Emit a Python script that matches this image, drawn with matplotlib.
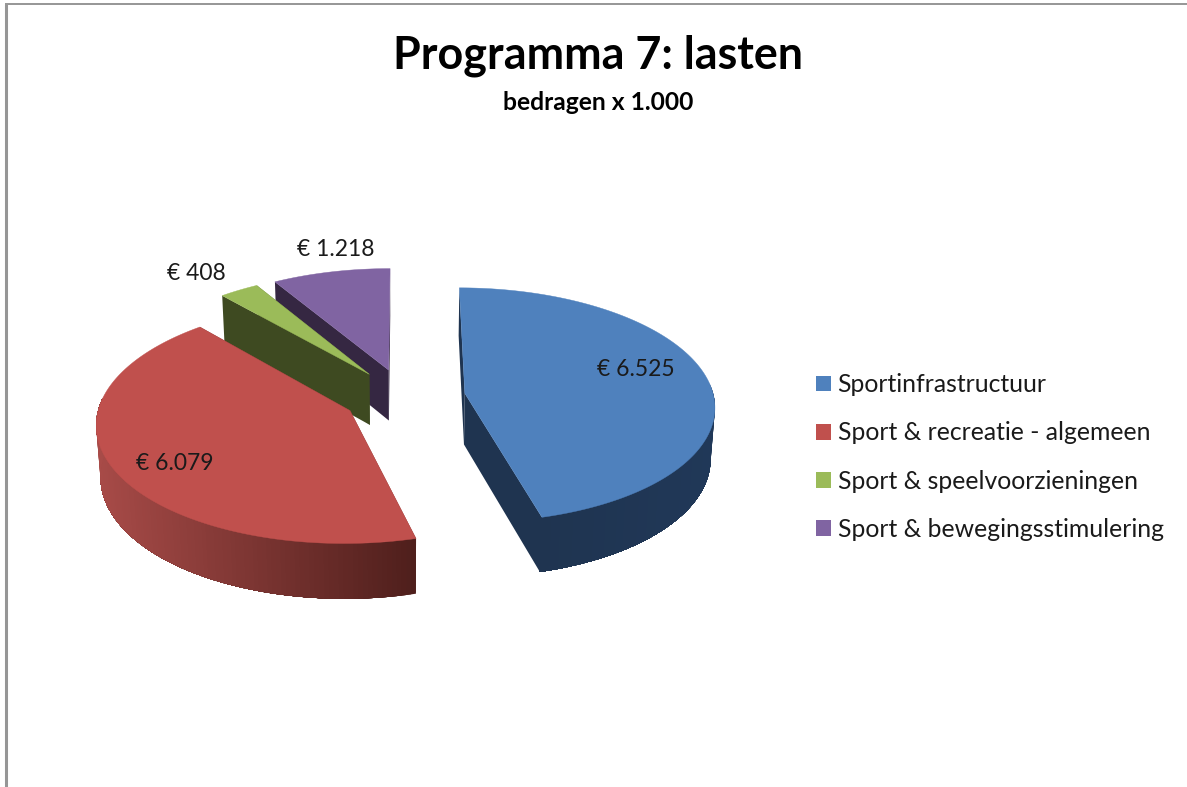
import numpy as np
import matplotlib
matplotlib.use("Agg")
import matplotlib.pyplot as plt
from matplotlib.patches import Patch, Polygon
from matplotlib.colors import to_rgb

TITLE = "Programma 7: lasten"
SUBTITLE = "bedragen x 1.000"
categories = ["Sportinfrastructuur", "Sport & recreatie - algemeen",
              "Sport & speelvoorzieningen", "Sport & bewegingsstimulering"]
values = [6525, 6079, 408, 1218]
top_colors = ["#4f81bd", "#c0504d", "#9bbb59", "#8064a2"]
cut_colors = ["#1f3450", "#4f1f1c", "#3e4a21", "#352742"]
rim_light = ["#203858", "#a84b48", "#5f7a30", "#4d3c66"]
rim_dark = ["#1f3450", "#4f1f1c", "#3e4a21", "#352742"]
label_pos = [(636, 370), (175, 463), (196, 273), (336, 249)]

CX, CY, RX, RY, K, EXPLODE, HEIGHT, DW = 404.5, 397, 249, 116.7, 0.10, 0.245, 52, 0.014

plt.rcParams["font.family"] = ["Lato", "DejaVu Sans"]
fig = plt.figure(figsize=(11.87, 7.87), dpi=100, facecolor="white")
ax = fig.add_axes([0, 0, 1, 1])
ax.set_xlim(0, 1187)
ax.set_ylim(787, 0)
ax.axis("off")


def project(u, v, bottom=False):
    w = 1 + K * v + (DW if bottom else 0)
    return CX + RX * u / w, CY + (-RY * v + (HEIGHT if bottom else 0)) / w


total = sum(values)
edges = np.concatenate([[0], np.cumsum(values)]) / total * 2 * np.pi
order = [3, 2, 1, 0]  # back to front
for i in order:
    a0, a1 = edges[i], edges[i + 1]
    mid = (a0 + a1) / 2
    ou, ov = EXPLODE * np.sin(mid), EXPLODE * np.cos(mid)
    angs = np.linspace(a0, a1, max(8, int(np.degrees(a1 - a0)) + 1))
    us, vs = ou + np.sin(angs), ov + np.cos(angs)

    # straight cut walls
    for a_u, a_v in ((us[0], vs[0]), (us[-1], vs[-1])):
        quad = [project(ou, ov), project(a_u, a_v),
                project(a_u, a_v, True), project(ou, ov, True)]
        ax.add_patch(Polygon(quad, closed=True, fc=cut_colors[i], ec="none"))

    # curved outer wall, only the part facing the viewer; each band overpaints
    # the rest of the wall so that no seams show between bands
    front = np.where(np.cos(angs) < 0.1)[0]
    if len(front) > 1:
        light, dark = np.array(to_rgb(rim_light[i])), np.array(to_rgb(rim_dark[i]))
        xs = np.array([project(us[j], vs[j])[0] for j in front])
        span = max(xs.max() - xs.min(), 1)
        for n, j in enumerate(front[:-1]):
            t = (xs[n] - xs.min()) / span
            t = 1 - t if i == 1 else t
            c = dark + (light - dark) * t
            rest = front[n:]
            upper = [project(us[k], vs[k]) for k in rest]
            lower = [project(us[k], vs[k], True) for k in rest[::-1]]
            ax.add_patch(Polygon(upper + lower, closed=True, fc=c, ec="none"))

    # top face
    pts = [project(ou, ov)] + [project(u, v) for u, v in zip(us, vs)]
    ax.add_patch(Polygon(pts, closed=True, fc=top_colors[i], ec=top_colors[i], lw=0.3))

for v, (x, y) in zip(values, label_pos):
    ax.text(x, y, "€ " + f"{v:,}".replace(",", "."), ha="center", va="center",
            fontsize=16.5, color="#1a1a1a")

ax.text(598, 56, TITLE, ha="center", va="center", fontsize=32.3, fontweight="bold", color="black")
ax.text(598, 102, SUBTITLE, ha="center", va="center", fontsize=17.7, fontweight="bold", color="black")

handles = [Patch(fc=c, ec="none") for c in top_colors]
leg = ax.legend(handles, categories, loc="center left", bbox_to_anchor=(793.6, 457),
                bbox_transform=ax.transData, frameon=False, fontsize=17.8,
                handlelength=0.6, handleheight=0.6, handletextpad=0.28,
                labelspacing=1.02, labelcolor="#1a1a1a")

ax.plot([5.5, 5.5], [787, 4], color="#969696", lw=2.2, solid_capstyle="butt")
ax.plot([4.5, 1187], [4, 4], color="#969696", lw=1.4, solid_capstyle="butt")

fig.savefig("out.png", dpi=100, facecolor="white")
